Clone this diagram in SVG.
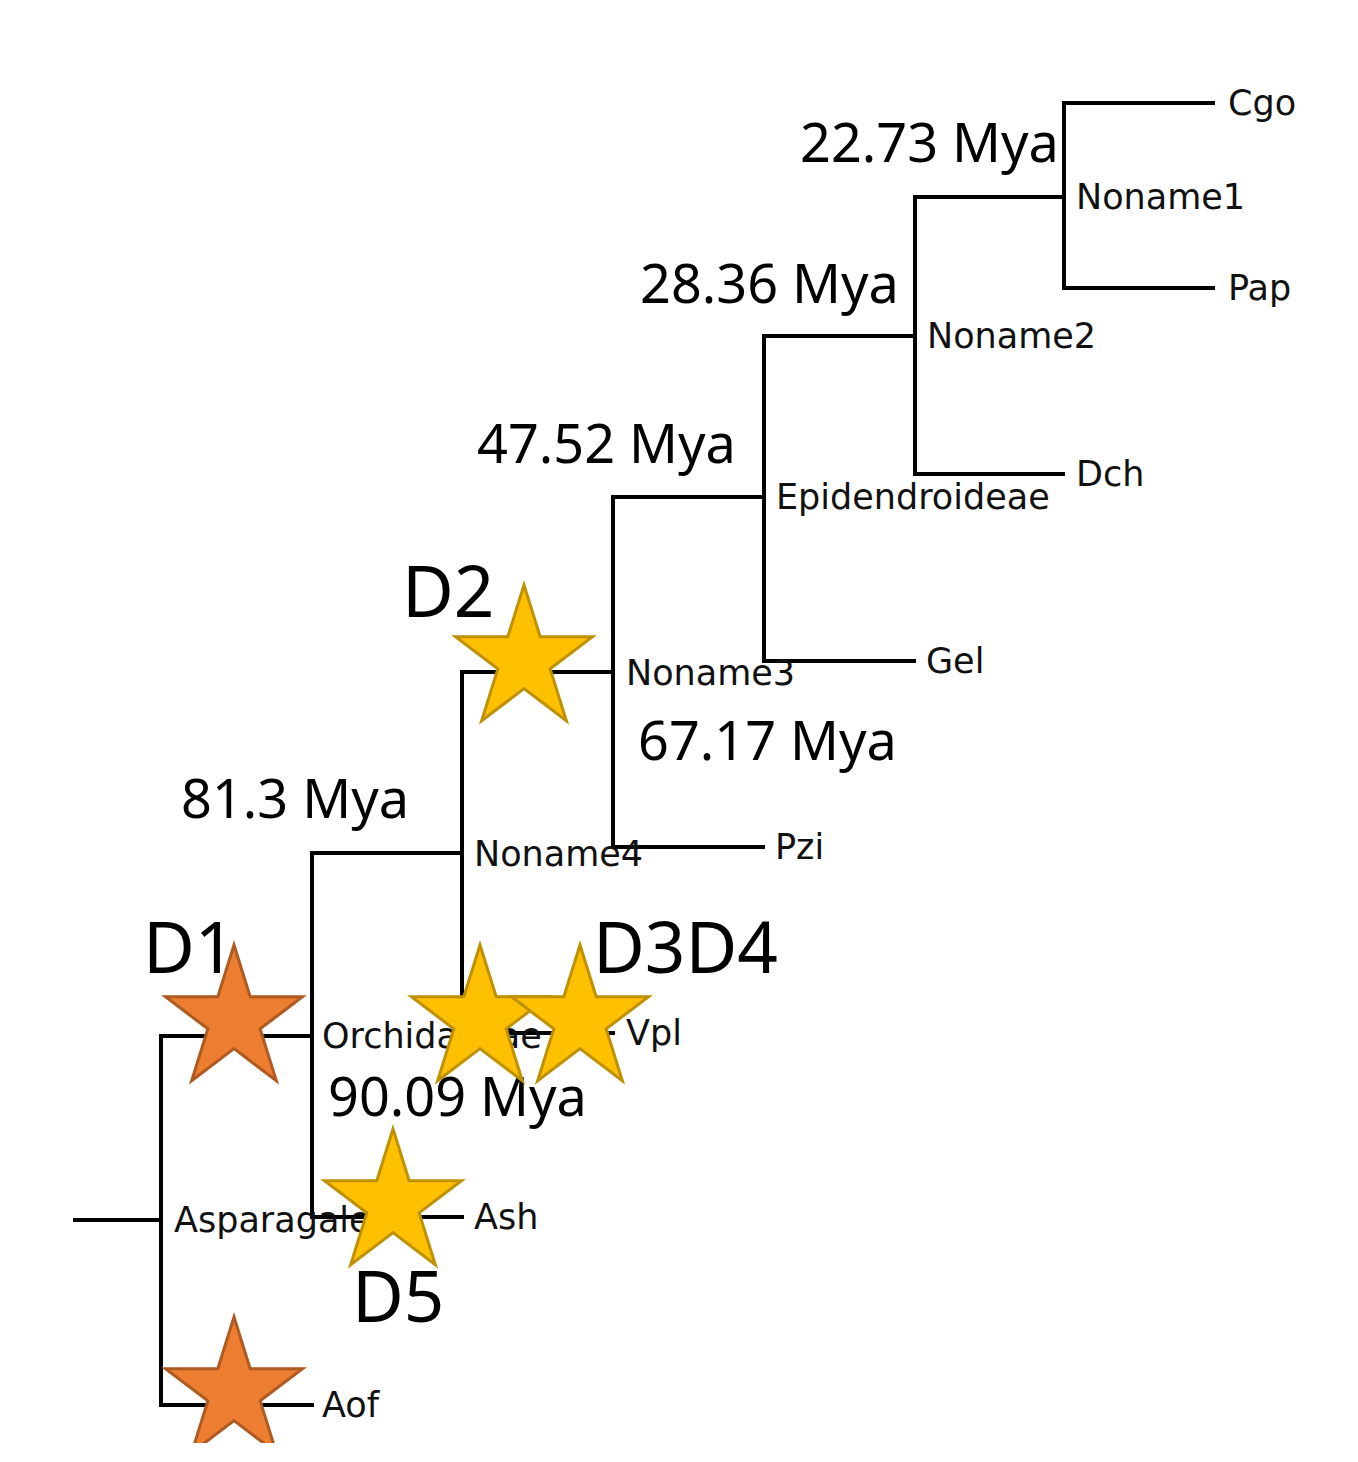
<svg xmlns="http://www.w3.org/2000/svg" width="1358" height="1462" viewBox="0 0 1358 1462">
<style>
.br{fill:none;stroke:#000;stroke-width:4;stroke-linecap:square;stroke-linejoin:miter}
.lb{font-family:"DejaVu Sans",sans-serif;font-size:35px;fill:#111}
.age{font-family:"Noto Sans","Liberation Sans",sans-serif;font-size:54px;fill:#000}
.dl{font-family:"Noto Sans","Liberation Sans",sans-serif;font-size:71px;fill:#000}
.sy{fill:#FFC000;stroke:#BF9000;stroke-width:3;stroke-linejoin:miter}
.so{fill:#ED7D31;stroke:#AE5A21;stroke-width:3;stroke-linejoin:miter}
</style>
<defs>
<polygon id="star" points="0,-75 16.17,-23.18 68.48,-23.18 26.16,8.85 42.32,60.68 0,28.65 -42.32,60.68 -26.16,8.85 -68.48,-23.18 -16.17,-23.18"/>
<clipPath id="clip"><rect x="0" y="0" width="1358" height="1443"/></clipPath>
</defs>
<rect width="1358" height="1462" fill="#fff"/>
<g clip-path="url(#clip)">
<g id="connectors">
<path class="br" d="M75,1220 H161"/>
<path class="br" d="M312,1036 H161 V1405 H312"/>
<path class="br" d="M462,853 H312 V1217 H462"/>
<path class="br" d="M613,672 H462 V1033 H613"/>
<path class="br" d="M764,497 H613 V847 H763"/>
<path class="br" d="M915,336 H764 V661 H914"/>
<path class="br" d="M1064,197 H915 V474 H1063"/>
<path class="br" d="M1213,103 H1064 V288 H1213"/>
</g>
<g id="node-Asparagales"><text class="lb" x="174" y="1232">Asparagales</text></g>
<g id="node-Aof"><text class="lb" x="322" y="1417">Aof</text></g>
<g id="node-Orchidaceae"><text class="lb" x="322" y="1048">Orchidaceae</text></g>
<g id="node-Ash"><text class="lb" x="474" y="1229">Ash</text></g>
<g id="node-Noname4"><text class="lb" x="474" y="866">Noname4</text></g>
<g id="node-Vpl"><text class="lb" x="626" y="1045">Vpl</text></g>
<g id="node-Noname3"><text class="lb" x="626" y="685">Noname3</text></g>
<g id="node-Pzi"><text class="lb" x="775" y="859">Pzi</text></g>
<g id="node-Epidendroideae"><text class="lb" x="776" y="509">Epidendroideae</text></g>
<g id="node-Gel"><text class="lb" x="926" y="673">Gel</text></g>
<g id="node-Noname2"><text class="lb" x="927" y="348">Noname2</text></g>
<g id="node-Dch"><text class="lb" x="1076" y="486">Dch</text></g>
<g id="node-Noname1"><text class="lb" x="1076" y="209">Noname1</text></g>
<g id="node-Cgo"><text class="lb" x="1228" y="115">Cgo</text></g>
<g id="node-Pap"><text class="lb" x="1228" y="300">Pap</text></g>
<g id="ages">
<text class="age" x="800" y="162">22.73 Mya</text>
<text class="age" x="640" y="303">28.36 Mya</text>
<text class="age" x="477" y="463">47.52 Mya</text>
<text class="age" x="638" y="760">67.17 Mya</text>
<text class="age" x="181" y="818">81.3 Mya</text>
<text class="age" x="328" y="1116">90.09 Mya</text>
</g>
<g id="dup-labels">
<text class="dl" x="402" y="617">D2</text>
<text class="dl" x="143" y="973">D1</text>
<text class="dl" x="593" y="973">D3D4</text>
<text class="dl" x="352" y="1322">D5</text>
</g>
<g id="stars">
<use href="#star" class="sy" x="524" y="660"/>
<use href="#star" class="so" x="234" y="1020"/>
<use href="#star" class="sy" x="480" y="1020"/>
<use href="#star" class="sy" x="580" y="1020"/>
<use href="#star" class="sy" x="393" y="1204"/>
<use href="#star" class="so" x="234" y="1392"/>
</g>
</g>
</svg>
